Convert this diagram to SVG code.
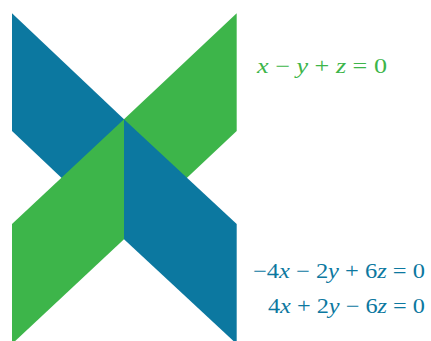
<svg xmlns="http://www.w3.org/2000/svg" width="431" height="341" viewBox="0 0 431 341">
<style>
.b{fill:#0C78A0}
.g{fill:#3DB54A}
.t{font-family:"Liberation Serif","DejaVu Serif",serif;font-size:21px}
.i{font-style:italic}
.tg{fill:#3DB54A}
.tb{fill:#0C78A0}
</style>
<rect width="431" height="341" fill="#ffffff"/>
<g id="plane-blue-top"><polygon class="b" points="12,13.3 124,119.3 124,237 12,131"/></g>
<g id="plane-green-top"><polygon class="g" points="236.7,13.3 124,119.3 124,237 236.7,131"/></g>
<g id="plane-green-bottom"><polygon class="g" points="12,224 124,119.3 124,239.3 12,344"/></g>
<g id="plane-blue-bottom"><polygon class="b" points="236.7,224 124,119.3 124,239.3 236.7,344"/></g>
<g id="connectors"></g>
<g id="eq1"><text class="t tg" x="257" y="73" textLength="130" lengthAdjust="spacingAndGlyphs"><tspan class="i">x</tspan> − <tspan class="i">y</tspan> + <tspan class="i">z</tspan> = 0</text></g>
<g id="eq2"><text class="t tb" x="253" y="278" textLength="172" lengthAdjust="spacingAndGlyphs">−4<tspan class="i">x</tspan> − 2<tspan class="i">y</tspan> + 6<tspan class="i">z</tspan> = 0</text></g>
<g id="eq3"><text class="t tb" x="268" y="313" textLength="157" lengthAdjust="spacingAndGlyphs">4<tspan class="i">x</tspan> + 2<tspan class="i">y</tspan> − 6<tspan class="i">z</tspan> = 0</text></g>
</svg>
